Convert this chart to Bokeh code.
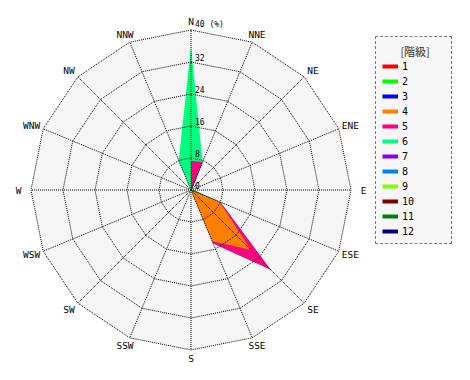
import numpy as np
from bokeh.plotting import figure
from bokeh.models import Range1d, Legend, LegendItem
from bokeh.core.properties import value
from bokeh.embed import file_html
from bokeh.resources import INLINE

directions = ["N", "NNE", "NE", "ENE", "E", "ESE", "SE", "SSE",
              "S", "SSW", "SW", "WSW", "W", "WNW", "NW", "NNW"]
class_labels = ["1", "2", "3", "4", "5", "6", "7", "8", "9", "10", "11", "12"]
class_colors = ["#ff0000", "#00ff00", "#0000ff", "#ff8000", "#ff0080", "#00ff80",
                "#8000ff", "#0080ff", "#80ff00", "#800000", "#008000", "#000080"]

# frequency (%) of each class per direction (N ... NNW)
c1 = [0, 0, 0, 0, 0, 0, 0, 0, 0, 0, 0, 0, 0, 0, 0, 0]
c2 = [0, 0, 0, 0, 0.5, 7.6, 0, 0, 0, 0, 0, 0, 0, 0, 0, 0]
c3 = [0, 7.6, 0.3, 0, 0, 0, 0, 0, 0, 0, 0, 0, 0, 0, 0, 0]
c4 = [0, 0, 0, 0, 0, 0.1, 21.2, 13.9, 0, 0, 0, 0, 0, 0, 0, 0]
c5 = [7.3, 0, 0, 0, 0, 0.3, 7.0, 0.6, 0, 0, 0, 0, 0, 0, 0, 0]
c6 = [28.5, 0, 0, 0, 0, 0, 0, 0, 0, 0, 0, 0, 0, 0, 0, 8.0]
c7 = [0, 0, 0, 0, 0, 0, 0, 0, 0, 0, 0, 0, 0, 0, 0, 0]
c8 = [0, 0, 0, 0, 0, 0, 0, 0, 0, 0, 0, 0, 0, 0, 0, 0]
c9 = [0, 0, 0, 0, 0, 0, 0, 0, 0, 0, 0, 0, 0, 0, 0, 0]
c10 = [0, 0, 0, 0, 0, 0, 0, 0, 0, 0, 0, 0, 0, 0, 0, 0]
c11 = [0, 0, 0, 0, 0, 0, 0, 0, 0, 0, 0, 0, 0, 0, 0, 0]
c12 = [0, 0, 0, 0, 0, 0, 0, 0, 0, 0, 0, 0, 0, 0, 0, 0]

ring_levels = [8, 16, 24, 32, 40]
tick_values = [0, 8, 16, 24, 32, 40]
tick_labels = ["0", "8", "16", "24", "32", "40 (%)"]

stack = np.array([c1, c2, c3, c4, c5, c6, c7, c8, c9, c10, c11, c12], dtype=float)
cum = np.cumsum(stack, axis=0)
theta = np.deg2rad(np.arange(len(directions)) * 360.0 / len(directions))
sn, cs = np.sin(theta), np.cos(theta)

p = figure(width=454, height=364, x_range=Range1d(-47.625, 65.875),
           y_range=Range1d(-43.625, 47.375), min_border=0,
           toolbar_location=None, output_backend="svg",
           x_axis_location=None, y_axis_location=None,
           outline_line_color=None, background_fill_color="white",
           border_fill_color="white")
p.grid.visible = False

outer = ring_levels[-1]
# plot background
p.patch(list(outer * sn), list(outer * cs), fill_color="#f5f5f5", line_color=None)

# stacked polygons, outermost class drawn first
legend_lines = {}
for k in range(len(class_labels) - 1, -1, -1):
    xs = list(cum[k] * sn)
    ys = list(cum[k] * cs)
    p.patch(xs, ys, fill_color=class_colors[k], line_color=None,
            visible=bool(np.any(stack[k] > 0)))
    legend_lines[k] = p.line(xs, ys, line_color=class_colors[k], line_width=4,
                             visible=False)

# grid rings and spokes
for r in ring_levels:
    p.line(list(r * np.append(sn, sn[0])), list(r * np.append(cs, cs[0])),
           line_color="black", line_width=1, line_dash="1 1")
p.segment(x0=[0] * len(directions), y0=[0] * len(directions),
          x1=list(outer * sn), y1=list(outer * cs),
          line_color="black", line_width=1, line_dash="1 1")

# radial tick labels
p.text(x=[0] * len(tick_values), y=tick_values, text=tick_labels,
       x_offset=4, y_offset=-1, text_baseline="bottom", text_align="left",
       text_font=value("DejaVu Sans Mono"), text_font_size="8px", text_color="black")

# direction labels, just outside the outer ring
p.text(x=list(outer * sn), y=list(outer * cs), text=directions,
       x_offset=list(12.5 * sn), y_offset=list(-8.5 * cs),
       text_align="center", text_baseline="middle",
       text_font=value("DejaVu Sans Mono"), text_font_size="9.5px", text_color="black")

items = [LegendItem(label=class_labels[k], renderers=[legend_lines[k]])
         for k in range(len(class_labels))]
legend = Legend(items=items, location=(375, 120), title="\u3000\u00a0\u00a0\u00a0[階級]",
                title_text_font="Noto Sans CJK JP", title_text_font_size="11px",
                title_text_font_style="normal", title_text_color="#333333",
                title_standoff=1,
                label_text_font="DejaVu Sans Mono", label_text_font_size="10px",
                label_text_color="black",
                glyph_width=16, glyph_height=12, label_height=12, label_width=43,
                label_standoff=4, spacing=3, padding=6, margin=0,
                border_line_color="black", border_line_dash="1 1", border_line_width=1,
                background_fill_color="#f7f7f7", background_fill_alpha=1.0)
p.add_layout(legend, "center")

open("out.html", "w").write(file_html(p, INLINE))
